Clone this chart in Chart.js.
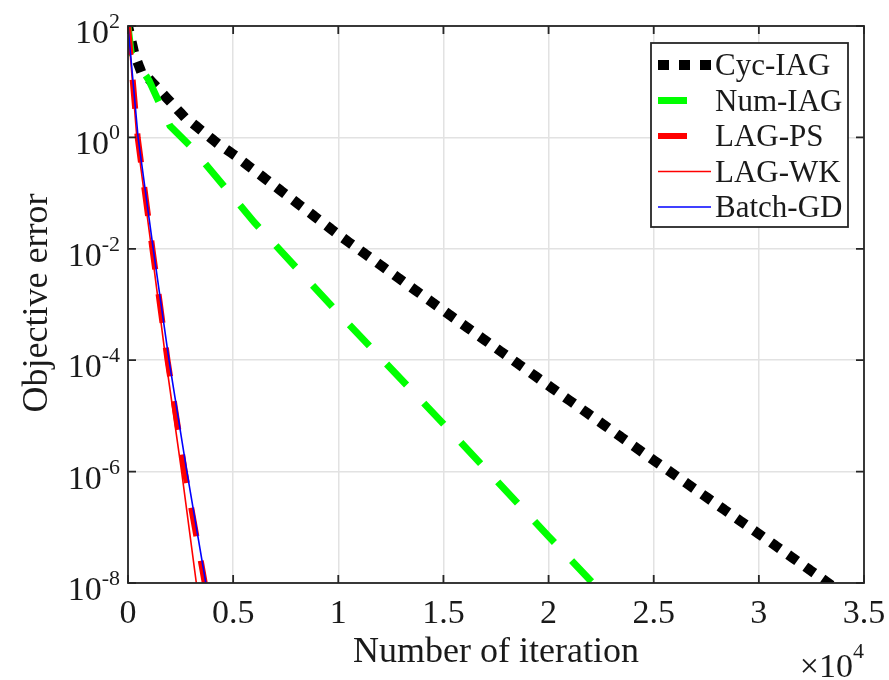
<!DOCTYPE html>
<html>
<head>
<meta charset="utf-8">
<script src="https://cdn.jsdelivr.net/npm/chart.js@4.4.1/dist/chart.umd.min.js"></script>
<style>
  html, body { margin: 0; padding: 0; background: #fff; }
</style>
</head>
<body>
<canvas id="myChart" width="889" height="680"></canvas>
<script>
// values (x = iterations, y = objective error)
let cycX = [0, 300, 600, 1300, 2600, 4200, 5000, 10000, 15000, 20000, 25000, 30000, 33300];
let cycY = [1e2, 3.2e1, 1.6e1, 8.5, 2.5, 8.1e-1, 5e-1, 1.8e-2, 7.8e-4, 3.5e-5, 1.6e-6, 7.6e-8, 1e-8];

let numX = [0, 150, 1000, 2000, 3000, 6000, 10000, 15000, 20000, 22100];
let numY = [1e2, 3.3e1, 1.05e1, 1.6, 6.8e-1, 3e-2, 7e-4, 7.2e-6, 6.9e-8, 1e-8];

let psX = [0, 460, 1160, 1880, 2700, 3650];
let psY = [1e2, 1, 1e-2, 1e-4, 1e-6, 1e-8];

let wkX = [0, 420, 1120, 1800, 2550, 3250];
let wkY = [1e2, 1, 1e-2, 1e-4, 1e-6, 1e-8];

let gdX = [0, 480, 1200, 1950, 2800, 3700];
let gdY = [1e2, 1, 1e-2, 1e-4, 1e-6, 1e-8];

let names = ['Cyc-IAG', 'Num-IAG', 'LAG-PS', 'LAG-WK', 'Batch-GD'];

let xTicks = [0, 5000, 10000, 15000, 20000, 25000, 30000, 35000];
let xTickLabels = ['0', '0.5', '1', '1.5', '2', '2.5', '3', '3.5'];
let yTicks = [1e2, 1e0, 1e-2, 1e-4, 1e-6, 1e-8];
let yTickExp = ['2', '0', '-2', '-4', '-6', '-8'];

function pts(xs, ys) {
    return xs.map((v, i) => ({ x: v, y: ys[i] }));
}

const serif = '"Liberation Serif", "Times New Roman", serif';
const ink = '#1a1a1a';

// matlab style box, inward ticks, labels, titles and legend
const matlabAxes = {
    id: 'matlabAxes',
    afterDraw(chart) {
        const ctx = chart.ctx;
        const a = chart.chartArea;
        const x = chart.scales.x;
        const y = chart.scales.y;
        ctx.save();

        ctx.strokeStyle = '#262626';
        ctx.lineWidth = 1.8;
        ctx.strokeRect(a.left, a.top, a.right - a.left, a.bottom - a.top);

        ctx.beginPath();
        xTicks.forEach(v => {
            const px = x.getPixelForValue(v);
            ctx.moveTo(px, a.bottom); ctx.lineTo(px, a.bottom - 8);
            ctx.moveTo(px, a.top); ctx.lineTo(px, a.top + 8);
        });
        yTicks.forEach(v => {
            const py = y.getPixelForValue(v);
            ctx.moveTo(a.left, py); ctx.lineTo(a.left + 8, py);
            ctx.moveTo(a.right, py); ctx.lineTo(a.right - 8, py);
        });
        ctx.stroke();

        ctx.fillStyle = ink;
        ctx.textBaseline = 'alphabetic';

        // x tick labels
        ctx.font = '34px ' + serif;
        ctx.textAlign = 'center';
        xTicks.forEach((v, i) => {
            ctx.fillText(xTickLabels[i], x.getPixelForValue(v), 623);
        });

        // y tick labels 10^n
        ctx.textAlign = 'right';
        yTicks.forEach((v, i) => {
            const py = y.getPixelForValue(v);
            ctx.font = '22px ' + serif;
            const ew = ctx.measureText(yTickExp[i]).width;
            ctx.fillText(yTickExp[i], 120, py + 2);
            ctx.font = '34px ' + serif;
            ctx.fillText('10', 120 - ew, py + 17);
        });

        // x10^4 multiplier
        ctx.font = '22px ' + serif;
        const mw = ctx.measureText('4').width;
        ctx.fillText('4', 864, 658);
        ctx.font = '34px ' + serif;
        ctx.fillText('\u00d710', 864 - mw, 677);

        // axis titles
        ctx.font = '36px ' + serif;
        ctx.textAlign = 'center';
        ctx.fillText('Number of iteration', 496, 662);
        ctx.save();
        ctx.translate(47, 303);
        ctx.rotate(-Math.PI / 2);
        ctx.fillText('Objective error', 0, 0);
        ctx.restore();

        // legend
        ctx.fillStyle = '#fff';
        ctx.fillRect(651, 43, 197, 184);
        ctx.strokeStyle = '#262626';
        ctx.lineWidth = 1.8;
        ctx.strokeRect(651, 43, 197, 184);
        chart.data.datasets.forEach((ds, i) => {
            const base = 75 + i * 35.5;
            ctx.save();
            ctx.strokeStyle = ds.borderColor;
            ctx.lineWidth = ds.borderWidth;
            ctx.lineCap = ds.borderCapStyle || 'butt';
            ctx.setLineDash(ds.borderDash || []);
            ctx.beginPath();
            const sx = ds.borderCapStyle === 'square' ? 663 : 658;
            ctx.moveTo(sx, base - 10);
            ctx.lineTo(711, base - 10);
            ctx.stroke();
            ctx.restore();
            ctx.fillStyle = ink;
            ctx.font = '31px ' + serif;
            ctx.textAlign = 'left';
            ctx.fillText(ds.label, 715, base);
        });

        ctx.restore();
    }
};

const ctx = document.getElementById('myChart').getContext('2d');
const chart = new Chart(ctx, {
    type: 'line',
    data: {
        datasets: [
            {
                label: names[0],
                data: pts(cycX, cycY),
                borderColor: '#000000',
                borderWidth: 10,
                borderDash: [1, 20],
                borderCapStyle: 'square',
                order: 5
            },
            {
                label: names[1],
                data: pts(numX, numY),
                borderColor: '#00ff00',
                borderWidth: 7,
                borderDash: [29, 25],
                order: 4
            },
            {
                label: names[2],
                data: pts(psX, psY),
                borderColor: '#ff0000',
                borderWidth: 6,
                borderDash: [29, 25],
                order: 3
            },
            {
                label: names[3],
                data: pts(wkX, wkY),
                borderColor: '#ff0000',
                borderWidth: 1.6,
                order: 2
            },
            {
                label: names[4],
                data: pts(gdX, gdY),
                borderColor: '#0000ff',
                borderWidth: 1.6,
                order: 1
            }
        ]
    },
    options: {
        responsive: false,
        animation: false,
        devicePixelRatio: 1,
        elements: { point: { radius: 0 }, line: { tension: 0 } },
        layout: { padding: { top: 26, right: 25, left: 0, bottom: 0 } },
        plugins: { legend: { display: false }, tooltip: { enabled: false } },
        scales: {
            x: {
                type: 'linear',
                min: 0,
                max: 35000,
                afterBuildTicks: s => { s.ticks = xTicks.map(v => ({ value: v })); },
                afterFit: s => { s.height = 97; },
                ticks: { display: false },
                grid: { color: '#e2e2e2', lineWidth: 1.5, drawTicks: false },
                border: { display: false }
            },
            y: {
                type: 'logarithmic',
                min: 1e-8,
                max: 1e2,
                afterBuildTicks: s => { s.ticks = yTicks.map(v => ({ value: v })); },
                afterFit: s => { s.width = 128; },
                ticks: { display: false },
                grid: { color: '#e2e2e2', lineWidth: 1.5, drawTicks: false },
                border: { display: false }
            }
        }
    },
    plugins: [matlabAxes]
});
</script>
</body>
</html>
